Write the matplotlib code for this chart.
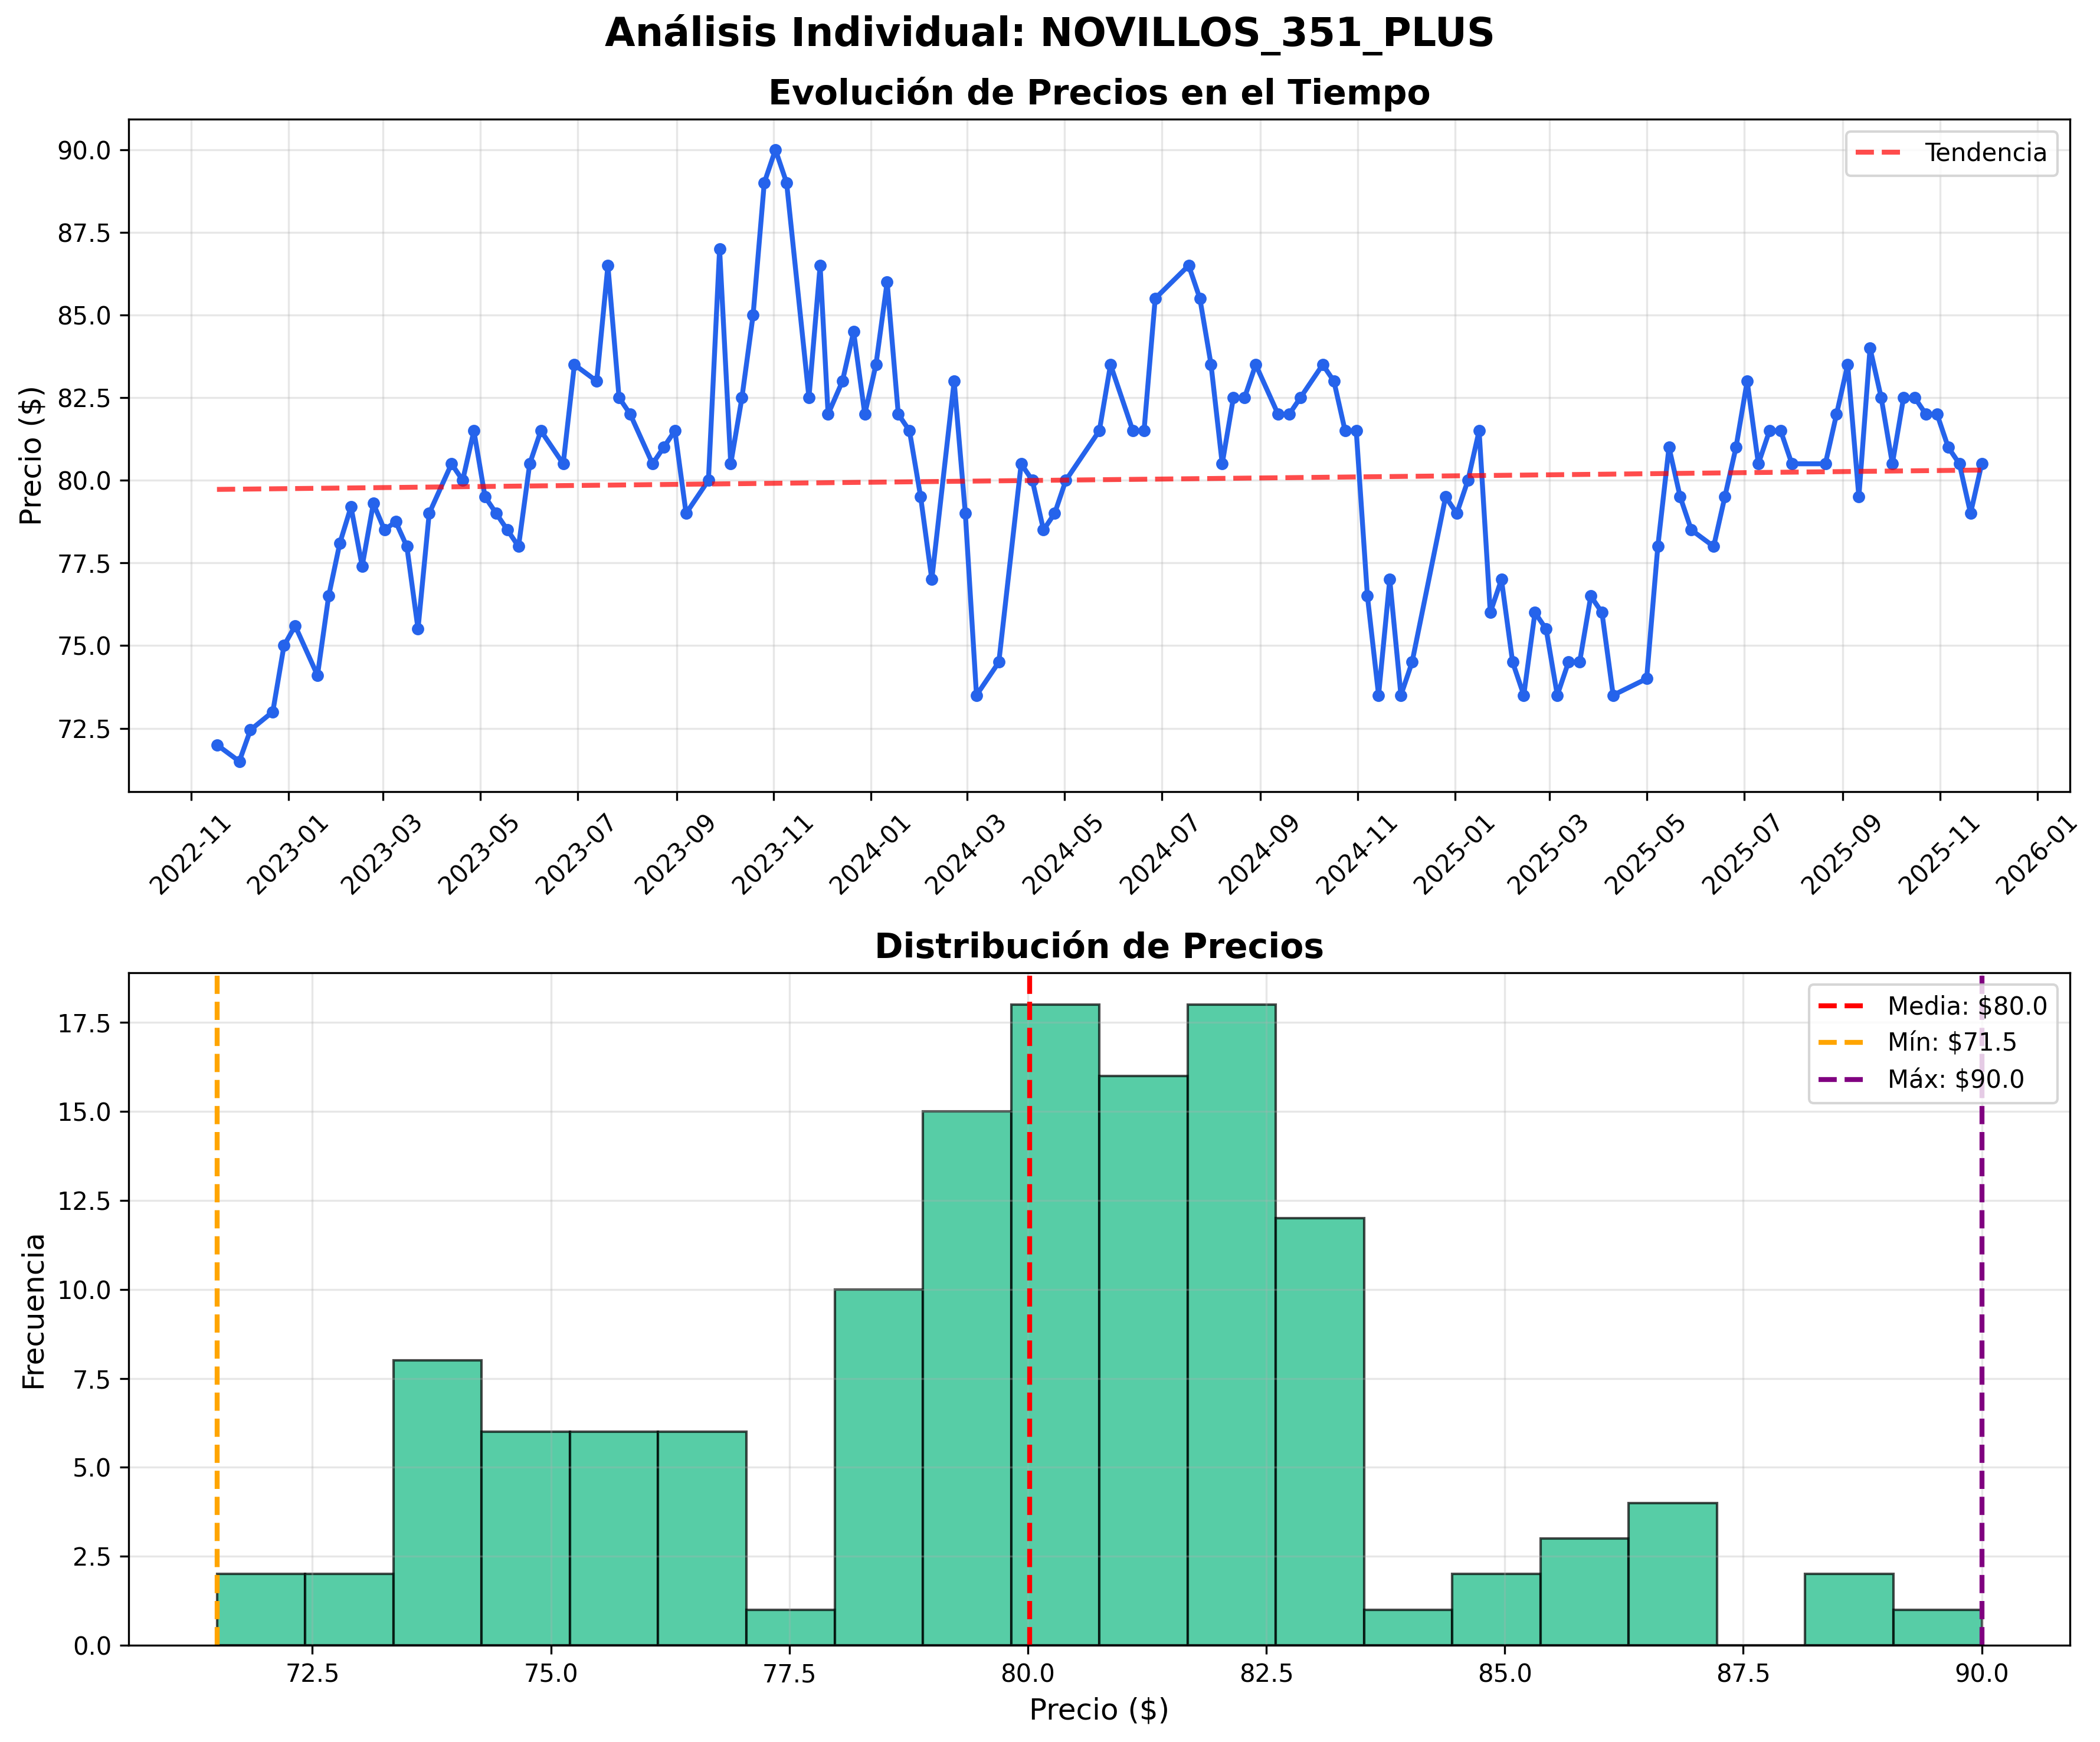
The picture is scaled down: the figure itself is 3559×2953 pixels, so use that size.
import numpy as np
import pandas as pd
import matplotlib
matplotlib.use("Agg")
import matplotlib.pyplot as plt
import matplotlib.dates as mdates

# dias desde 2022-11-01 de cada registro
inicio = "2022-11-01"
dias = [16, 30, 37, 51, 58, 65, 79, 86, 93, 100, 107, 114, 121, 128, 135, 142, 149, 163, 170, 177,
        184, 191, 198, 205, 212, 219, 233, 240, 254, 261, 268, 275, 289, 296, 303, 310, 324, 331, 338, 345,
        352, 359, 366, 373, 387, 394, 399, 408, 415, 422, 429, 436, 443, 450, 457, 464, 478, 485, 492, 506,
        520, 527, 534, 541, 548, 569, 576, 590, 597, 604, 625, 632, 639, 646, 653, 660, 667, 681, 688, 695,
        709, 716, 723, 730, 737, 744, 751, 758, 765, 786, 793, 800, 807, 814, 821, 828, 835, 842, 849, 856,
        863, 870, 877, 884, 891, 912, 919, 926, 933, 940, 954, 961, 968, 975, 982, 989, 996, 1003, 1024, 1031,
        1038, 1045, 1052, 1059, 1066, 1073, 1080, 1087, 1094, 1101, 1108, 1115, 1122]

precios = [72.0, 71.5, 72.45, 73.0, 75.0, 75.6, 74.1, 76.5, 78.1, 79.2, 77.4, 79.3, 78.5, 78.75, 78.0, 75.5, 79.0, 80.5, 80.0, 81.5,
           79.5, 79.0, 78.5, 78.0, 80.5, 81.5, 80.5, 83.5, 83.0, 86.5, 82.5, 82.0, 80.5, 81.0, 81.5, 79.0, 80.0, 87.0, 80.5, 82.5,
           85.0, 89.0, 90.0, 89.0, 82.5, 86.5, 82.0, 83.0, 84.5, 82.0, 83.5, 86.0, 82.0, 81.5, 79.5, 77.0, 83.0, 79.0, 73.5, 74.5,
           80.5, 80.0, 78.5, 79.0, 80.0, 81.5, 83.5, 81.5, 81.5, 85.5, 86.5, 85.5, 83.5, 80.5, 82.5, 82.5, 83.5, 82.0, 82.0, 82.5,
           83.5, 83.0, 81.5, 81.5, 76.5, 73.5, 77.0, 73.5, 74.5, 79.5, 79.0, 80.0, 81.5, 76.0, 77.0, 74.5, 73.5, 76.0, 75.5, 73.5,
           74.5, 74.5, 76.5, 76.0, 73.5, 74.0, 78.0, 81.0, 79.5, 78.5, 78.0, 79.5, 81.0, 83.0, 80.5, 81.5, 81.5, 80.5, 80.5, 82.0,
           83.5, 79.5, 84.0, 82.5, 80.5, 82.5, 82.5, 82.0, 82.0, 81.0, 80.5, 79.0, 80.5]

producto = "NOVILLOS_351_PLUS"

fechas = pd.Timestamp(inicio) + pd.to_timedelta(dias, unit="D")
precios = np.array(precios)

fig, (ax1, ax2) = plt.subplots(2, 1, figsize=(3559 / 300, 2953 / 300), dpi=300)
fig.subplots_adjust(left=0.0613, right=0.9857, top=0.9316, bottom=0.0555, hspace=0.2685)
fig.suptitle(f"Análisis Individual: {producto}", fontsize=16, fontweight="bold", y=0.992)

# serie temporal
ax1.plot(fechas, precios, marker="o", linewidth=2, markersize=4, color="#2563eb")
x_num = mdates.date2num(fechas)
coef = np.polyfit(x_num, precios, 1)
ax1.plot(fechas, np.polyval(coef, x_num), "--", color="red", alpha=0.7, linewidth=2, label="Tendencia")
ax1.set_title("Evolución de Precios en el Tiempo", fontsize=14, fontweight="bold")
ax1.set_ylabel("Precio ($)", fontsize=12)
ax1.grid(True, alpha=0.3)
ax1.legend(loc="upper right")
ax1.xaxis.set_major_locator(mdates.MonthLocator(interval=2))
ax1.xaxis.set_major_formatter(mdates.DateFormatter("%Y-%m"))
ax1.tick_params(axis="x", labelrotation=45)

# distribucion
ax2.hist(precios, bins=20, color="#10b981", alpha=0.7, edgecolor="black")
media = precios.mean()
ax2.axvline(media, color="red", linestyle="--", linewidth=2, label=f"Media: ${media:.1f}")
ax2.axvline(precios.min(), color="orange", linestyle="--", linewidth=2, label=f"Mín: ${precios.min():.1f}")
ax2.axvline(precios.max(), color="purple", linestyle="--", linewidth=2, label=f"Máx: ${precios.max():.1f}")
ax2.set_title("Distribución de Precios", fontsize=14, fontweight="bold")
ax2.set_xlabel("Precio ($)", fontsize=12)
ax2.set_ylabel("Frecuencia", fontsize=12)
ax2.grid(True, alpha=0.3)
ax2.legend(loc="upper right")

fig.savefig("out.png", dpi=300)
